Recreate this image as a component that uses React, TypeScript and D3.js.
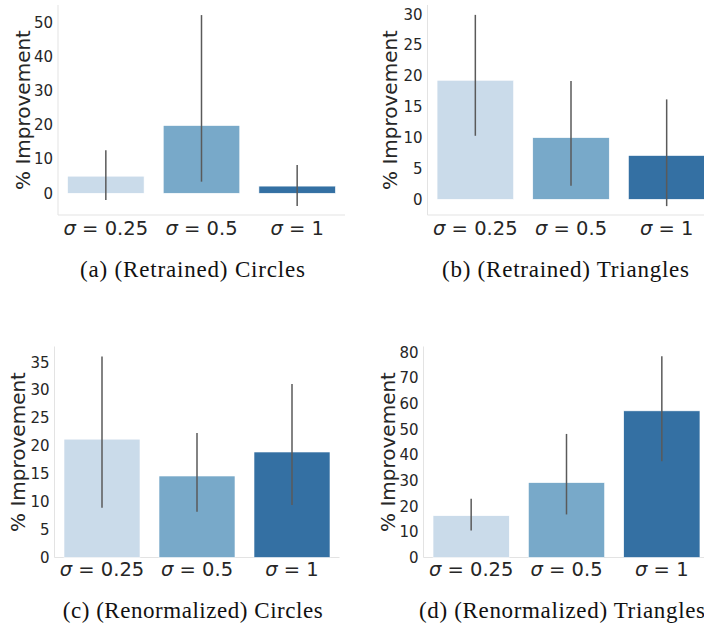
import React from "react";
import { scaleBand, scaleLinear } from "d3";

// sigma settings on the x axis
const sigmas = ["0.25", "0.5", "1"];

// mean % improvement and error bar ends
const retrainedCircles = [5.0, 19.8, 2.1];
const retrainedCirclesLow = [-2.0, 3.4, -3.7];
const retrainedCirclesHigh = [12.6, 52.1, 8.3];

const retrainedTriangles = [19.3, 10.0, 7.1];
const retrainedTrianglesLow = [10.3, 2.2, -1.1];
const retrainedTrianglesHigh = [29.9, 19.2, 16.2];

const renormCircles = [21.2, 14.6, 18.9];
const renormCirclesLow = [8.9, 8.2, 9.4];
const renormCirclesHigh = [36.0, 22.3, 31.1];

const renormTriangles = [16.3, 29.2, 57.2];
const renormTrianglesLow = [10.5, 16.8, 37.5];
const renormTrianglesHigh = [22.9, 48.2, 78.5];

const ticksA = [0, 10, 20, 30, 40, 50];
const ticksB = [0, 5, 10, 15, 20, 25, 30];
const ticksC = [0, 5, 10, 15, 20, 25, 30, 35];
const ticksD = [0, 10, 20, 30, 40, 50, 60, 70, 80];

const barColors = ["#cadbea", "#78a9c9", "#3470a3"];
const textColor = "#262626";
const sans = "DejaVu Sans, sans-serif";
const serif = "Liberation Serif, Times New Roman, serif";

type PanelProps = {
  x0: number; x1: number; // band range
  yTop: number; yBottom: number; // spine extent
  domain: [number, number];
  ticks: number[];
  values: number[]; lows: number[]; highs: number[];
  labelX: number;
  tickY: number;
  caption: string; captionX: number; captionY: number; captionW: number;
};

const Panel = (p: PanelProps) => {
  const x = scaleBand<string>()
    .domain(sigmas)
    .range([p.x0, p.x1])
    .paddingInner(0.2)
    .paddingOuter(0.1);
  const y = scaleLinear().domain(p.domain).range([p.yBottom, p.yTop]);
  const midY = (p.yTop + p.yBottom) / 2;

  return (
    <g>
      {/* spines */}
      <line x1={p.x0} x2={p.x1} y1={p.yBottom} y2={p.yBottom} stroke="#e3e3e3" strokeWidth={1} />
      <line x1={p.x0} x2={p.x0} y1={p.yTop} y2={p.yBottom} stroke="#e3e3e3" strokeWidth={1} />

      {p.ticks.map((t) => (
        <text key={t} x={p.x0 - 5} y={y(t)} dy="0.36em" textAnchor="end"
          fontFamily={sans} fontSize={15} fill={textColor}>{t}</text>
      ))}

      <text transform={`translate(${p.labelX},${midY}) rotate(-90)`} textAnchor="middle"
        fontFamily={sans} fontSize={20} fill={textColor}>% Improvement</text>

      {sigmas.map((s, i) => {
        const bx = x(s)!;
        const cx = bx + x.bandwidth() / 2;
        return (
          <g key={s}>
            <rect x={bx} width={x.bandwidth()}
              y={Math.min(y(p.values[i]), y(0))}
              height={Math.abs(y(0) - y(p.values[i]))}
              fill={barColors[i]} stroke="#ffffff" strokeWidth={0.6} />
            <line x1={cx} x2={cx} y1={y(p.lows[i])} y2={y(p.highs[i])}
              stroke="#5a5a5a" strokeWidth={1.5} />
            <text x={cx} y={p.tickY} textAnchor="middle" fontFamily={sans}
              fontSize={19.5} fill={textColor}>
              <tspan fontStyle="italic">σ</tspan> = {s}
            </text>
          </g>
        );
      })}

      <text x={p.captionX} y={p.captionY} textAnchor="middle" fontFamily={serif}
        fontSize={23} fill="#111" textLength={p.captionW} lengthAdjust="spacing">
        {p.caption}
      </text>
    </g>
  );
};

export default function App() {
  return (
    <svg width={704} height={630} style={{ position: "absolute", left: 0, top: 0, background: "#fff" }}>
      <Panel x0={58} x1={345} yTop={5} yBottom={215} domain={[-6.35, 55.05]} ticks={ticksA}
        values={retrainedCircles} lows={retrainedCirclesLow} highs={retrainedCirclesHigh}
        labelX={30} tickY={235}
        caption="(a) (Retrained) Circles" captionX={192.5} captionY={277} captionW={225} />
      <Panel x0={427.5} x1={714.5} yTop={5} yBottom={215} domain={[-2.54, 31.5]} ticks={ticksB}
        values={retrainedTriangles} lows={retrainedTrianglesLow} highs={retrainedTrianglesHigh}
        labelX={397} tickY={235}
        caption="(b) (Retrained) Triangles" captionX={565.5} captionY={277} captionW={247} />
      <Panel x0={54.5} x1={339.5} yTop={346.5} yBottom={557.5} domain={[0, 37.8]} ticks={ticksC}
        values={renormCircles} lows={renormCirclesLow} highs={renormCirclesHigh}
        labelX={25} tickY={576}
        caption="(c) (Renormalized) Circles" captionX={192.7} captionY={618} captionW={260} />
      <Panel x0={423.5} x1={709.5} yTop={346.5} yBottom={557.5} domain={[0, 82.3]} ticks={ticksD}
        values={renormTriangles} lows={renormTrianglesLow} highs={renormTrianglesHigh}
        labelX={395} tickY={576}
        caption="(d) (Renormalized) Triangles" captionX={562} captionY={618} captionW={286} />
    </svg>
  );
}
